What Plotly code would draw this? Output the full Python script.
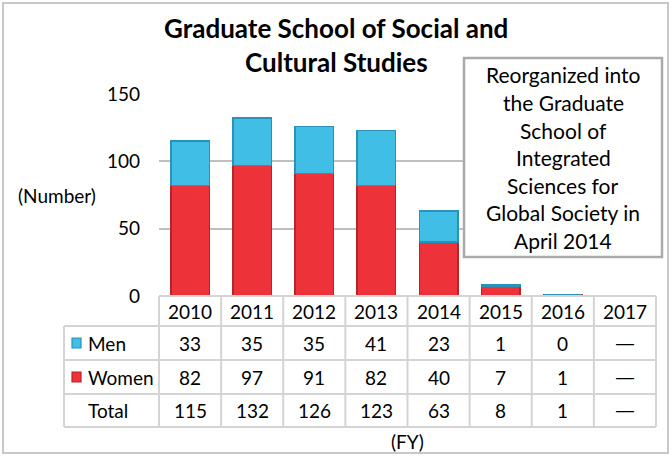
import plotly.graph_objects as go

years = ['2010', '2011', '2012', '2013', '2014', '2015', '2016', '2017']
men = [33, 35, 35, 41, 23, 1, 0, None]
women = [82, 97, 91, 82, 40, 7, 1, None]
total = [115, 132, 126, 123, 63, 8, 1, None]
title_lines = ['Graduate School of Social and', 'Cultural Studies']
note_lines = ['Reorganized into', 'the Graduate', 'School of', 'Integrated',
              'Sciences for', 'Global Society in', 'April 2014']

FONT = 'Lato'
W, H = 672, 457
L, R, T, B = 159, 656, 94, 296
PW, PH = R - L, B - T


def xp(px):
    return (px - L) / PW


def yp(py):
    return (B - py) / PH


RED = '#EE3239'
RED_D = '#B3262B'
BLUE = '#40BEE6'
BLUE_D = '#2A92BA'
GRID = '#BFBFBF'
TLINE = '#D4D4D4'

fig = go.Figure()
fig.add_trace(go.Bar(x=years, y=women, name='Women', marker=dict(color=RED, line=dict(color=RED_D, width=1.5))))
fig.add_trace(go.Bar(x=years, y=men, name='Men', marker=dict(color=BLUE, line=dict(color=BLUE_D, width=1.5))))

shapes = []
ann = []

# outer border
shapes.append(dict(type='rect', xref='paper', yref='paper', x0=xp(3), x1=xp(668), y0=yp(3), y1=yp(453),
                   line=dict(color='#C8C8C8', width=2), layer='below'))

# table lines
rows_y = [296, 326, 360, 394, 427]
col_x = [L + i * PW / 8 for i in range(9)]
shapes.append(dict(type='line', xref='paper', yref='paper', x0=xp(L), x1=xp(R), y0=yp(296), y1=yp(296),
                   line=dict(color=TLINE, width=2)))
for ry in rows_y[1:]:
    shapes.append(dict(type='line', xref='paper', yref='paper', x0=xp(64), x1=xp(R), y0=yp(ry), y1=yp(ry),
                       line=dict(color=TLINE, width=2)))
for cx in col_x:
    shapes.append(dict(type='line', xref='paper', yref='paper', x0=xp(cx), x1=xp(cx), y0=yp(296), y1=yp(427),
                       line=dict(color=TLINE, width=2)))
shapes.append(dict(type='line', xref='paper', yref='paper', x0=xp(64), x1=xp(64), y0=yp(326), y1=yp(427),
                   line=dict(color=TLINE, width=2)))

# legend keys
for ky, col, lc in [(343, BLUE, BLUE_D), (377, RED, RED_D)]:
    shapes.append(dict(type='rect', xref='paper', yref='paper', x0=xp(72), x1=xp(81), y0=yp(ky - 5), y1=yp(ky + 5),
                       fillcolor=col, line=dict(color=lc, width=1.2)))

# note box
shapes.append(dict(type='rect', xref='paper', yref='paper', x0=xp(464), x1=xp(662), y0=yp(58), y1=yp(257),
                   fillcolor='white', line=dict(color='#AAAAAA', width=2.5), layer='above'))

tf = dict(family=FONT, size=19, color='black')
dash_font = dict(family='DejaVu Sans', size=20, color='black')


def A(x, y, text, font=tf, xref='paper', xanchor='center'):
    return dict(x=x, xref=xref, y=y, yref='paper', text=text, showarrow=False,
                xanchor=xanchor, yanchor='middle', font=font)


# header
for i, yr in enumerate(years):
    ann.append(A(i, yp(311), yr, xref='x'))

for label, vals, ry in [('Men', men, 343), ('Women', women, 377), ('Total', total, 410.5)]:
    ann.append(A(xp(86), yp(ry), label, xanchor='left'))
    for i, v in enumerate(vals):
        if v is None:
            ann.append(A(i, yp(ry), '—', xref='x', font=dash_font))
        else:
            ann.append(A(i, yp(ry), str(v), xref='x'))

ann.append(A(xp(57), yp(195), '(Number)'))
ann.append(A(xp(407), yp(441), '(FY)'))

# title
for i, line in enumerate(title_lines):
    ann.append(A(xp(336), yp(28 + 34 * i), '<b>%s</b>' % line, font=dict(family=FONT, size=26, color='black')))

# note text
for i, line in enumerate(note_lines):
    ann.append(A(xp(563), yp(75 + 27.5 * i), line, font=dict(family=FONT, size=21, color='black')))

fig.update_layout(
    width=W, height=H,
    margin=dict(l=L, r=W - R, t=T, b=H - B),
    barmode='stack', bargap=0.38,
    plot_bgcolor='white', paper_bgcolor='white',
    showlegend=False,
    shapes=shapes, annotations=ann,
    xaxis=dict(type='category', range=[-0.5, 7.5], showticklabels=False, showgrid=False, zeroline=False,
               showline=False, ticks=''),
    yaxis=dict(range=[0, 150], dtick=50, showgrid=True, gridcolor=GRID, gridwidth=1.5, zeroline=False,
               showline=False, ticks='', ticklabelstandoff=18, tickfont=tf),
)

fig.write_html('out.html', config={'displayModeBar': False},
               post_script="document.body.style.margin='0px';")
